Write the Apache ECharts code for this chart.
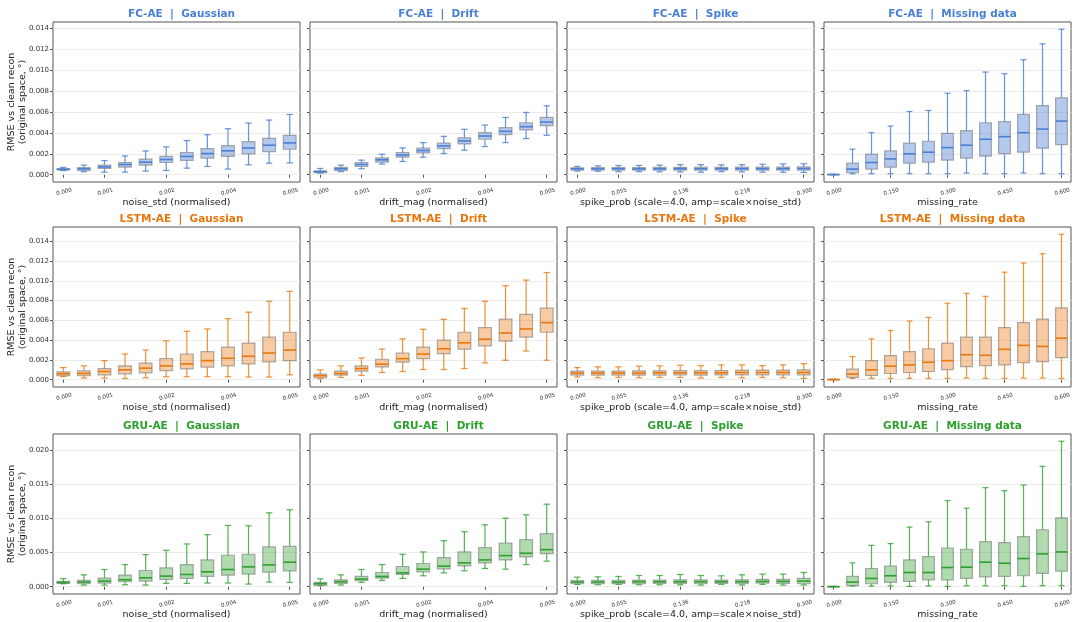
<!DOCTYPE html>
<html>
<head>
<meta charset="utf-8">
<script src="https://cdn.jsdelivr.net/npm/echarts@6/dist/echarts.min.js"></script>
<style>
  html, body { margin: 0; padding: 0; background: #ffffff; }
  #chart { width: 1075px; height: 622px; }
</style>
</head>
<body>
<div id="chart"></div>
<script>
// Sweep levels (x categories) for each corruption type
const noiseLevels  = ['0.00000','0.00045','0.00091','0.00136','0.00182','0.00227','0.00273','0.00318','0.00364','0.00409','0.00455','0.00500'];
const driftLevels  = ['0.00000','0.00045','0.00091','0.00136','0.00182','0.00227','0.00273','0.00318','0.00364','0.00409','0.00455','0.00500'];
const spikeLevels  = ['0.00000','0.02727','0.05455','0.08182','0.10909','0.13636','0.16364','0.19091','0.21818','0.24545','0.27273','0.30000'];
const missingLevels = ['0.00','0.05','0.10','0.15','0.20','0.25','0.30','0.35','0.40','0.45','0.50','0.55','0.60'];

// Labelled tick positions on each sweep axis
const tickIdx12 = [0, 2, 5, 8, 11];
const tickIdx13 = [0, 3, 6, 9, 12];

// Y tick values per row
const yTicksSmall = [0, 0.002, 0.004, 0.006, 0.008, 0.010, 0.012, 0.014];
const yTicksLarge = [0, 0.005, 0.010, 0.015, 0.020];

// Box statistics per sweep level: [lower whisker, Q1, median, Q3, upper whisker]
const fcGaussian = [
  [0.00040,0.00046,0.00052,0.00058,0.00070],[0.00029,0.00042,0.00057,0.00068,0.00092],
  [0.00025,0.00060,0.00075,0.00092,0.00136],[0.00025,0.00073,0.00098,0.00117,0.00180],
  [0.00035,0.00092,0.00120,0.00149,0.00228],[0.00041,0.00117,0.00146,0.00175,0.00267],
  [0.00063,0.00137,0.00175,0.00213,0.00327],[0.00079,0.00159,0.00203,0.00251,0.00384],
  [0.00054,0.00175,0.00229,0.00279,0.00441],[0.00095,0.00200,0.00257,0.00317,0.00495],
  [0.00111,0.00222,0.00283,0.00349,0.00524],[0.00114,0.00244,0.00305,0.00378,0.00578]
];
const fcDrift = [
  [0.00016,0.00020,0.00029,0.00038,0.00060],[0.00029,0.00041,0.00057,0.00070,0.00092],
  [0.00057,0.00079,0.00098,0.00117,0.00140],[0.00102,0.00121,0.00143,0.00162,0.00197],
  [0.00127,0.00168,0.00190,0.00213,0.00257],[0.00168,0.00210,0.00232,0.00254,0.00308],
  [0.00203,0.00251,0.00276,0.00302,0.00368],[0.00235,0.00295,0.00324,0.00354,0.00435],
  [0.00270,0.00340,0.00371,0.00403,0.00476],[0.00308,0.00384,0.00416,0.00451,0.00549],
  [0.00346,0.00429,0.00460,0.00498,0.00597],[0.00378,0.00470,0.00505,0.00549,0.00660]
];
const fcSpike = [
  [0.00035,0.00045,0.00057,0.00067,0.00079],[0.00033,0.00045,0.00056,0.00068,0.00085],
  [0.00030,0.00044,0.00057,0.00069,0.00088],[0.00030,0.00044,0.00056,0.00069,0.00089],
  [0.00028,0.00045,0.00057,0.00070,0.00092],[0.00027,0.00044,0.00058,0.00071,0.00097],
  [0.00024,0.00043,0.00057,0.00072,0.00097],[0.00030,0.00045,0.00058,0.00071,0.00095],
  [0.00027,0.00044,0.00058,0.00072,0.00097],[0.00025,0.00044,0.00058,0.00072,0.00100],
  [0.00024,0.00043,0.00058,0.00073,0.00103],[0.00022,0.00043,0.00059,0.00075,0.00105]
];
const fcMissing = [
  [0.00000,0.00001,0.00002,0.00003,0.00005],[0.00010,0.00019,0.00054,0.00111,0.00244],
  [0.00010,0.00054,0.00117,0.00197,0.00403],[0.00010,0.00073,0.00152,0.00229,0.00467],
  [0.00010,0.00111,0.00200,0.00302,0.00606],[0.00010,0.00121,0.00216,0.00321,0.00616],
  [0.00010,0.00140,0.00260,0.00397,0.00781],[0.00016,0.00159,0.00283,0.00422,0.00806],
  [0.00010,0.00178,0.00340,0.00498,0.00984],[0.00010,0.00203,0.00365,0.00508,0.00968],
  [0.00016,0.00216,0.00403,0.00578,0.01102],[0.00010,0.00254,0.00438,0.00663,0.01254],
  [0.00010,0.00289,0.00514,0.00737,0.01394]
];
const lstmGaussian = [
  [0.00033,0.00040,0.00060,0.00080,0.00123],[0.00017,0.00040,0.00063,0.00090,0.00140],
  [0.00017,0.00050,0.00083,0.00113,0.00193],[0.00013,0.00060,0.00100,0.00140,0.00260],
  [0.00020,0.00070,0.00117,0.00167,0.00300],[0.00030,0.00093,0.00140,0.00213,0.00393],
  [0.00030,0.00110,0.00160,0.00260,0.00490],[0.00030,0.00127,0.00193,0.00283,0.00513],
  [0.00030,0.00140,0.00217,0.00330,0.00617],[0.00027,0.00160,0.00237,0.00370,0.00683],
  [0.00027,0.00180,0.00270,0.00430,0.00793],[0.00050,0.00193,0.00300,0.00480,0.00893]
];
const lstmDrift = [
  [0.00010,0.00020,0.00040,0.00057,0.00100],[0.00023,0.00047,0.00063,0.00087,0.00140],
  [0.00043,0.00087,0.00113,0.00140,0.00220],[0.00073,0.00130,0.00157,0.00207,0.00310],
  [0.00083,0.00177,0.00213,0.00270,0.00413],[0.00103,0.00213,0.00260,0.00330,0.00510],
  [0.00103,0.00263,0.00313,0.00400,0.00610],[0.00113,0.00310,0.00373,0.00480,0.00720],
  [0.00170,0.00343,0.00410,0.00527,0.00793],[0.00197,0.00390,0.00473,0.00613,0.00950],
  [0.00290,0.00430,0.00513,0.00660,0.01007],[0.00197,0.00480,0.00577,0.00723,0.01083]
];
const lstmSpike = [
  [0.00027,0.00047,0.00067,0.00087,0.00123],[0.00020,0.00047,0.00067,0.00087,0.00130],
  [0.00023,0.00047,0.00067,0.00087,0.00130],[0.00020,0.00047,0.00067,0.00090,0.00137],
  [0.00023,0.00047,0.00070,0.00090,0.00140],[0.00023,0.00050,0.00070,0.00093,0.00147],
  [0.00017,0.00047,0.00070,0.00093,0.00143],[0.00023,0.00050,0.00070,0.00093,0.00150],
  [0.00020,0.00050,0.00073,0.00097,0.00150],[0.00023,0.00050,0.00073,0.00097,0.00143],
  [0.00020,0.00050,0.00073,0.00097,0.00150],[0.00013,0.00050,0.00073,0.00100,0.00163]
];
const lstmMissing = [
  [0.00000,0.00001,0.00002,0.00003,0.00005],[0.00013,0.00023,0.00057,0.00107,0.00233],
  [0.00013,0.00043,0.00100,0.00193,0.00413],[0.00013,0.00063,0.00137,0.00243,0.00497],
  [0.00013,0.00073,0.00150,0.00283,0.00593],[0.00013,0.00083,0.00177,0.00313,0.00630],
  [0.00013,0.00103,0.00193,0.00370,0.00773],[0.00017,0.00133,0.00253,0.00430,0.00873],
  [0.00013,0.00143,0.00247,0.00430,0.00843],[0.00013,0.00150,0.00307,0.00527,0.01087],
  [0.00017,0.00173,0.00347,0.00577,0.01180],[0.00017,0.00183,0.00337,0.00613,0.01273],
  [0.00013,0.00223,0.00420,0.00727,0.01470]
];
const gruGaussian = [
  [0.00044,0.00049,0.00063,0.00080,0.00120],[0.00024,0.00044,0.00068,0.00092,0.00175],
  [0.00024,0.00054,0.00083,0.00127,0.00253],[0.00029,0.00073,0.00102,0.00170,0.00326],
  [0.00024,0.00083,0.00131,0.00238,0.00472],[0.00049,0.00107,0.00156,0.00277,0.00535],
  [0.00049,0.00122,0.00180,0.00326,0.00628],[0.00054,0.00151,0.00219,0.00394,0.00764],
  [0.00054,0.00170,0.00253,0.00462,0.00900],[0.00039,0.00185,0.00292,0.00477,0.00895],
  [0.00068,0.00214,0.00321,0.00584,0.01085],[0.00063,0.00234,0.00360,0.00594,0.01130]
];
const gruDrift = [
  [0.00015,0.00020,0.00044,0.00063,0.00117],[0.00024,0.00049,0.00073,0.00100,0.00175],
  [0.00063,0.00088,0.00112,0.00151,0.00253],[0.00092,0.00127,0.00151,0.00209,0.00326],
  [0.00122,0.00180,0.00204,0.00297,0.00477],[0.00161,0.00219,0.00258,0.00341,0.00511],
  [0.00204,0.00263,0.00302,0.00428,0.00676],[0.00234,0.00307,0.00350,0.00511,0.00808],
  [0.00268,0.00350,0.00394,0.00574,0.00910],[0.00258,0.00394,0.00457,0.00642,0.01007],
  [0.00326,0.00438,0.00491,0.00691,0.01056],[0.00375,0.00487,0.00545,0.00779,0.01212]
];
const gruSpike = [
  [0.00034,0.00044,0.00068,0.00090,0.00141],[0.00029,0.00044,0.00068,0.00092,0.00146],
  [0.00034,0.00044,0.00068,0.00095,0.00151],[0.00029,0.00044,0.00073,0.00097,0.00165],
  [0.00029,0.00049,0.00073,0.00097,0.00165],[0.00029,0.00049,0.00073,0.00102,0.00180],
  [0.00024,0.00044,0.00073,0.00102,0.00165],[0.00034,0.00049,0.00073,0.00097,0.00160],
  [0.00024,0.00044,0.00073,0.00102,0.00175],[0.00034,0.00054,0.00078,0.00107,0.00185],
  [0.00024,0.00049,0.00078,0.00107,0.00185],[0.00024,0.00044,0.00083,0.00122,0.00209]
];
const gruMissing = [
  [0.00000,0.00001,0.00002,0.00003,0.00005],[0.00010,0.00015,0.00068,0.00151,0.00350],
  [0.00010,0.00044,0.00122,0.00268,0.00608],[0.00010,0.00063,0.00161,0.00302,0.00633],
  [0.00005,0.00078,0.00209,0.00394,0.00876],[0.00010,0.00102,0.00209,0.00443,0.00954],
  [0.00005,0.00102,0.00282,0.00569,0.01265],[0.00015,0.00122,0.00287,0.00550,0.01153],
  [0.00015,0.00146,0.00360,0.00662,0.01455],[0.00015,0.00151,0.00345,0.00647,0.01411],
  [0.00005,0.00161,0.00414,0.00735,0.01494],[0.00015,0.00195,0.00482,0.00837,0.01767],
  [0.00015,0.00229,0.00511,0.01012,0.02136]
];

const models = [
  { name: 'FC-AE',   color: '#4a7fd6', fill: 'rgba(74,127,214,0.42)',  whisker: 'rgba(74,127,214,0.82)', yTicks: yTicksSmall, data: [fcGaussian, fcDrift, fcSpike, fcMissing] },
  { name: 'LSTM-AE', color: '#ea760c', fill: 'rgba(240,140,50,0.45)',  whisker: 'rgba(234,118,12,0.78)', yTicks: yTicksSmall, data: [lstmGaussian, lstmDrift, lstmSpike, lstmMissing] },
  { name: 'GRU-AE',  color: '#2ca02c', fill: 'rgba(44,160,44,0.38)',   whisker: 'rgba(44,160,44,0.78)',  yTicks: yTicksLarge, data: [gruGaussian, gruDrift, gruSpike, gruMissing] }
];
const sweeps = [
  { name: 'Gaussian',     xName: 'noise_std (normalised)', levels: noiseLevels,   ticks: tickIdx12, digits: 3 },
  { name: 'Drift',        xName: 'drift_mag (normalised)', levels: driftLevels,   ticks: tickIdx12, digits: 3 },
  { name: 'Spike',        xName: 'spike_prob (scale=4.0, amp=scale\u00d7noise_std)', levels: spikeLevels, ticks: tickIdx12, digits: 3 },
  { name: 'Missing data', xName: 'missing_rate',           levels: missingLevels, ticks: tickIdx13, digits: 3 }
];

// Panel placement (px)
const colLeft = [53, 310, 567, 824];
const colWidth = 247;
const rowTop = [22, 227, 434];
const rowHeight = 160;

function makeRenderer(model) {
  return function (params, api) {
    const i = api.value(0);
    const band = api.size([1, 0])[0];
    const half = band * 0.31;
    const capHalf = band * 0.155;
    const pLo = api.coord([i, api.value(1)]);
    const pQ1 = api.coord([i, api.value(2)]);
    const pMed = api.coord([i, api.value(3)]);
    const pQ3 = api.coord([i, api.value(4)]);
    const pHi = api.coord([i, api.value(5)]);
    const cx = pMed[0];
    const wStyle = { stroke: model.whisker, lineWidth: 1.25 };
    return {
      type: 'group',
      children: [
        { type: 'line', shape: { x1: cx, y1: pQ1[1], x2: cx, y2: pLo[1] }, style: wStyle },
        { type: 'line', shape: { x1: cx, y1: pQ3[1], x2: cx, y2: pHi[1] }, style: wStyle },
        { type: 'line', shape: { x1: cx - capHalf, y1: pLo[1], x2: cx + capHalf, y2: pLo[1] }, style: wStyle },
        { type: 'line', shape: { x1: cx - capHalf, y1: pHi[1], x2: cx + capHalf, y2: pHi[1] }, style: wStyle },
        { type: 'rect', shape: { x: cx - half, y: pQ3[1], width: 2 * half, height: Math.max(pQ1[1] - pQ3[1], 0.5) },
          style: { fill: model.fill, stroke: 'rgba(120,120,120,0.6)', lineWidth: 1.2 } },
        { type: 'line', shape: { x1: cx - half, y1: pMed[1], x2: cx + half, y2: pMed[1] },
          style: { stroke: model.color, lineWidth: 1.6 } }
      ]
    };
  };
}

const grids = [], xAxes = [], yAxes = [], titles = [], series = [];
models.forEach((model, r) => {
  // shared y range per row, with a 5% margin on the data span
  let lo = Infinity, hi = -Infinity;
  model.data.forEach(panel => panel.forEach(b => { lo = Math.min(lo, b[0]); hi = Math.max(hi, b[4]); }));
  const pad = (hi - lo) * 0.05;
  const yMin = lo - pad, yMax = hi + pad;

  sweeps.forEach((sweep, c) => {
    const k = r * 4 + c;
    grids.push({
      left: colLeft[c], top: rowTop[r], width: colWidth, height: rowHeight,
      show: true, borderColor: '#555', borderWidth: 1, backgroundColor: 'transparent'
    });
    titles.push({
      text: model.name + '  |  ' + sweep.name,
      left: colLeft[c] + colWidth / 2, top: rowTop[r] - 18, textAlign: 'center',
      textStyle: { fontFamily: 'DejaVu Sans', fontSize: 10.5, fontWeight: 'bold', color: model.color }
    });
    const shown = (idx) => sweep.ticks.indexOf(idx) >= 0;
    xAxes.push({
      gridIndex: k, type: 'category', data: sweep.levels, boundaryGap: true,
      axisLine: { show: false },
      axisTick: { show: true, alignWithLabel: true, interval: shown, length: 3, lineStyle: { color: '#555' } },
      axisLabel: {
        interval: shown, rotate: 15, align: 'center', verticalAlign: 'top', margin: 7,
        fontFamily: 'DejaVu Sans', fontSize: 5.5, color: '#333',
        formatter: v => Number(v).toFixed(sweep.digits)
      },
      splitLine: { show: false },
      name: sweep.xName, nameLocation: 'middle', nameGap: 16, nameMoveOverlap: false,
      nameTextStyle: { fontFamily: 'DejaVu Sans', fontSize: 9.5, color: '#222' }
    });
    yAxes.push({
      gridIndex: k, type: 'value', min: yMin, max: yMax,
      axisLine: { show: false },
      axisTick: { show: true, length: 3, customValues: model.yTicks, lineStyle: { color: '#555' } },
      axisLabel: {
        show: c === 0, customValues: model.yTicks, margin: 4,
        fontFamily: 'DejaVu Sans', fontSize: 7, color: '#333',
        formatter: v => v.toFixed(3)
      },
      splitLine: { show: true, lineStyle: { color: '#ececec', width: 1 } },
      name: c === 0 ? 'RMSE vs clean recon\n(original space, \u00b0)' : '',
      nameLocation: 'middle', nameRotate: 90, nameGap: 25, nameMoveOverlap: false,
      nameTextStyle: { fontFamily: 'DejaVu Sans', fontSize: 9.5, color: '#222', lineHeight: 11 }
    });
    series.push({
      type: 'custom', xAxisIndex: k, yAxisIndex: k,
      renderItem: makeRenderer(model),
      encode: { x: 0, y: [1, 2, 3, 4, 5] },
      data: model.data[c].map((b, i) => [i, b[0], b[1], b[2], b[3], b[4]]),
      clip: true, silent: true
    });
  });
});

const chart = echarts.init(document.getElementById('chart'), null, { renderer: 'canvas' });
chart.setOption({
  animation: false,
  backgroundColor: '#ffffff',
  title: titles,
  grid: grids,
  xAxis: xAxes,
  yAxis: yAxes,
  series: series
});
</script>
</body>
</html>
